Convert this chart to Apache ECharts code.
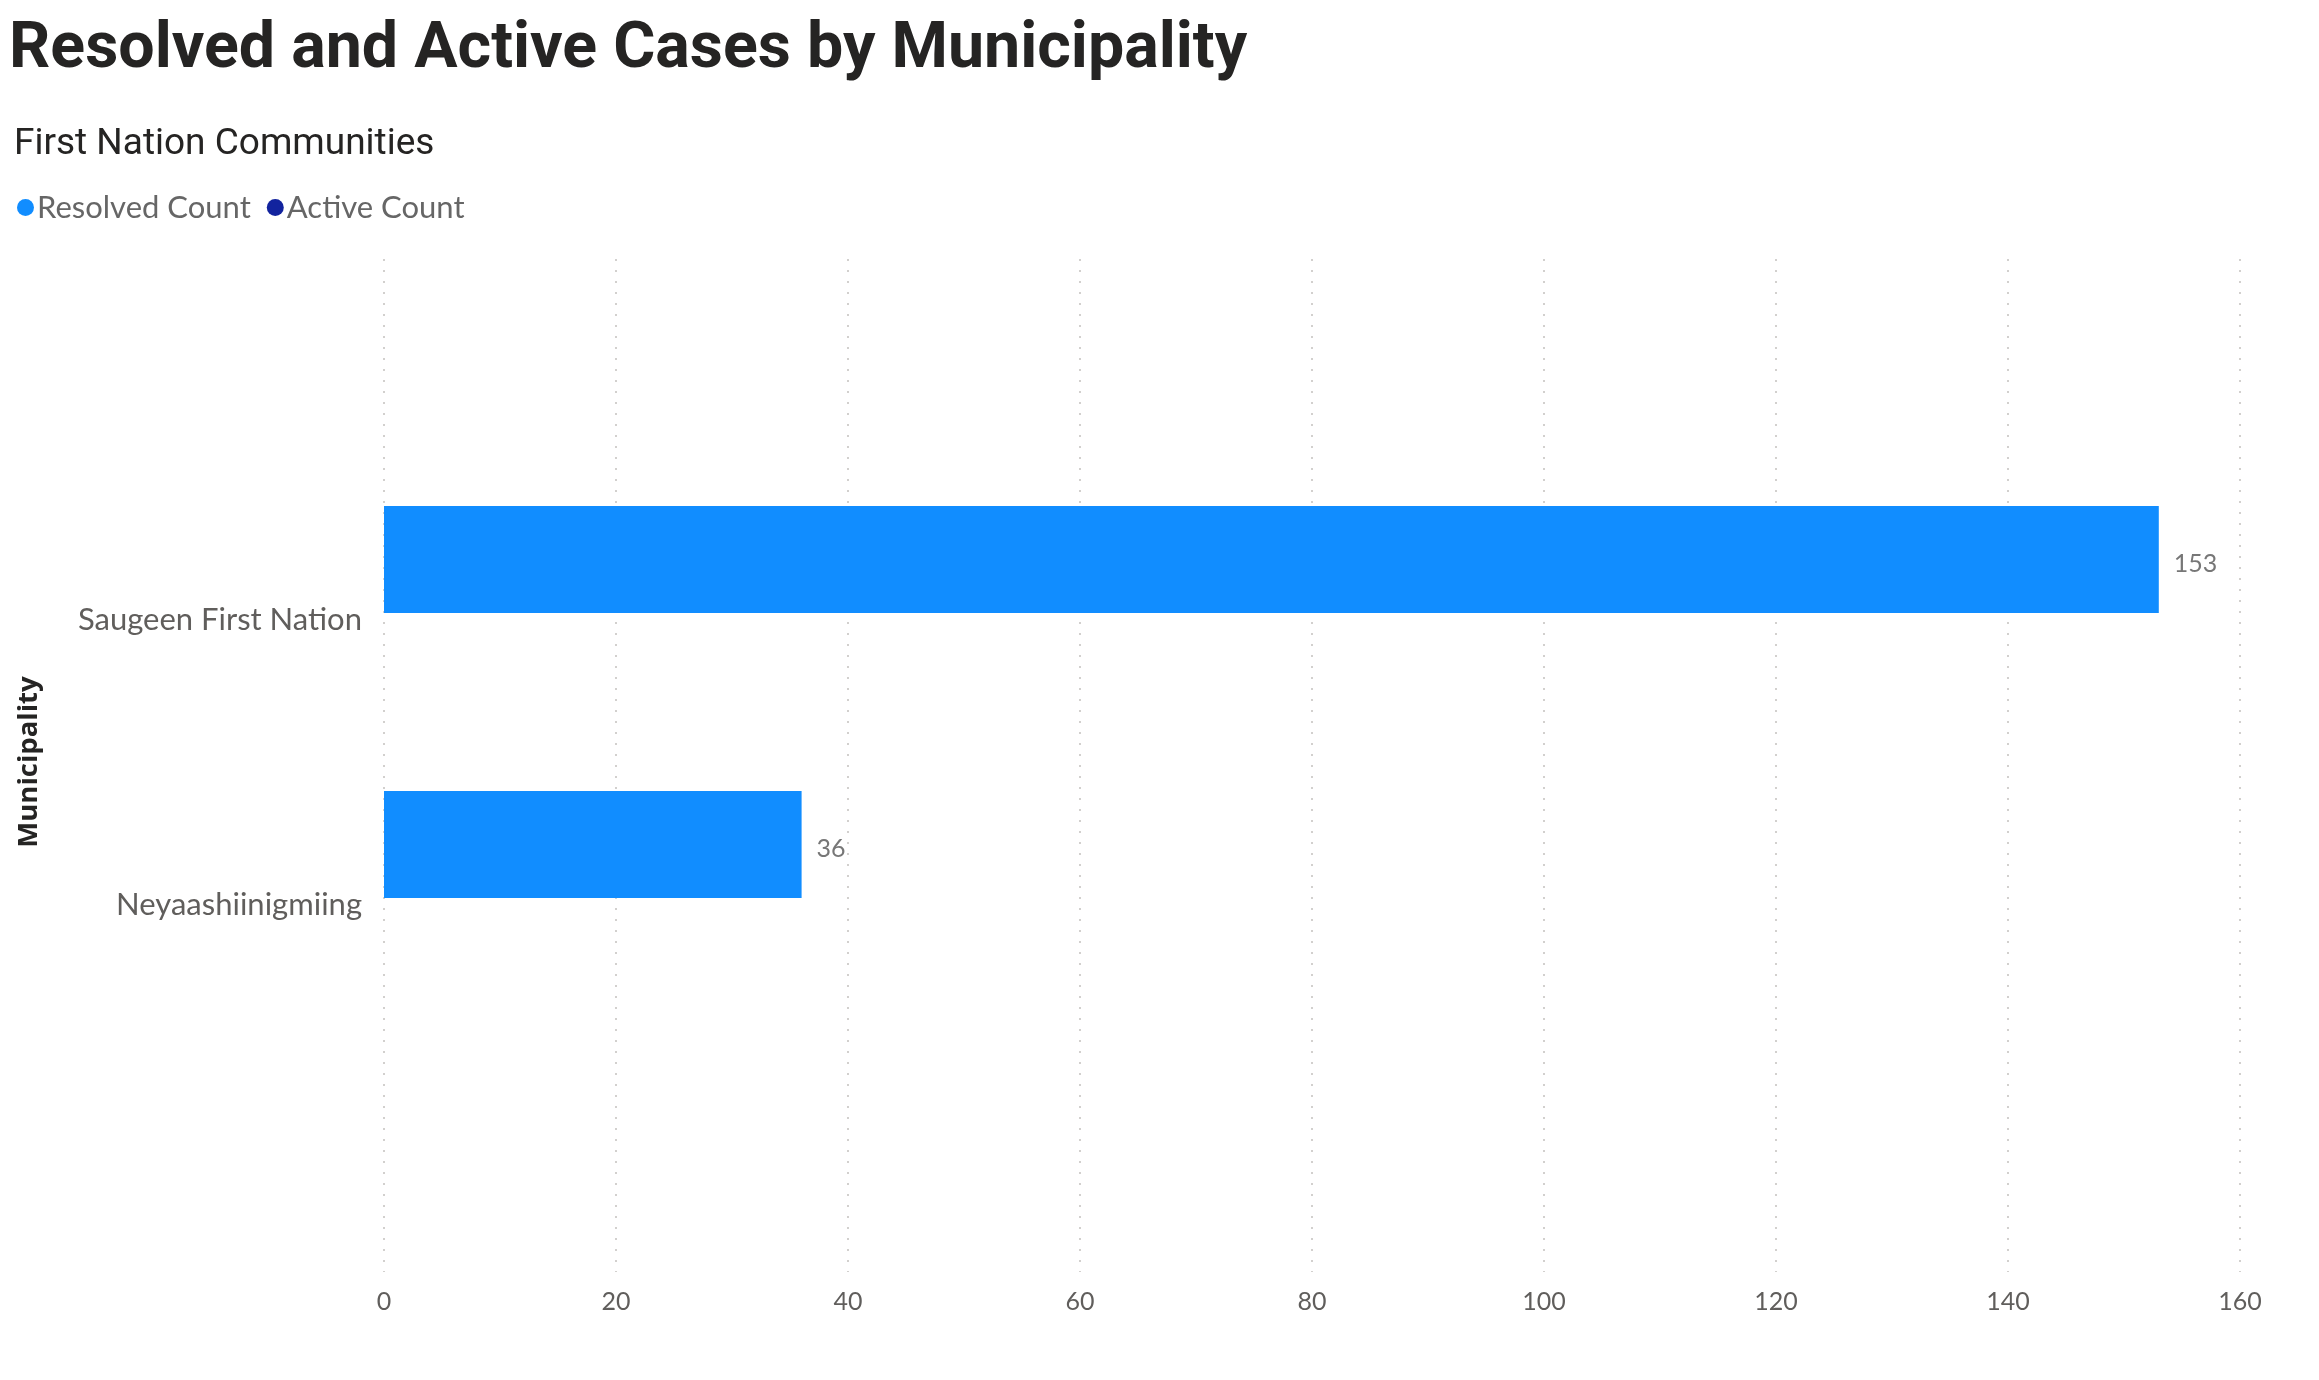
<!DOCTYPE html>
<html>
<head>
<meta charset="utf-8">
<script src="https://cdn.jsdelivr.net/npm/echarts@6/dist/echarts.min.js"></script>
<style>
html,body{margin:0;padding:0;background:#fff;}
#chart{width:2319px;height:1380px;}
</style>
</head>
<body>
<div id="chart"></div>
<script>
var categories = ['Saugeen First Nation', 'Neyaashiinigmiing'];
var resolvedCount = [153, 36];
var activeCount = [0, 0];
var seriesNames = ['Resolved Count', 'Active Count'];
var xTicks = [0, 20, 40, 60, 80, 100, 120, 140, 160];

var chart = echarts.init(document.getElementById('chart'));
var labelFont = 'Lato, "Noto Sans", sans-serif';
chart.setOption({
  animation: false,
  backgroundColor: '#ffffff',
  title: [
    {text: 'Resolved and Active Cases by Municipality', left: 4, top: 13,
     textStyle: {fontFamily: 'Roboto, sans-serif', fontWeight: 'bold', fontSize: 64.5, color: '#252423'}},
    {text: 'First Nation Communities', left: 9, top: 121,
     textStyle: {fontFamily: 'Roboto, sans-serif', fontWeight: 'normal', fontSize: 37, color: '#252423'}}
  ],
  legend: {
    left: 12, top: 187, icon: 'circle', itemWidth: 17, itemHeight: 17, itemGap: 16,
    data: seriesNames,
    textStyle: {fontFamily: labelFont, fontSize: 31, color: '#666666', padding: [0, 0, 0, -2]}
  },
  grid: [
    {left: 384, right: 79, top: 259, bottom: 108},
    {left: 384, right: 79, top: 477, height: 570}
  ],
  xAxis: [
    {gridIndex: 0, type: 'value', min: xTicks[0], max: xTicks[xTicks.length - 1], interval: 20,
     axisLine: {show: false}, axisTick: {show: false},
     axisLabel: {margin: 17, fontFamily: labelFont, fontSize: 25, color: '#605E5C'},
     splitLine: {show: true, lineStyle: {type: [2, 9], color: '#D2D0CE', width: 2}}},
    {gridIndex: 1, type: 'value', min: xTicks[0], max: xTicks[xTicks.length - 1], interval: 20, show: false,
     splitLine: {show: false}}
  ],
  yAxis: [
    {gridIndex: 0, type: 'value', show: false, splitLine: {show: false}},
    {gridIndex: 1, type: 'category', data: categories, inverse: true,
     axisLine: {show: false}, axisTick: {show: false},
     axisLabel: {margin: 22, fontFamily: labelFont, fontSize: 31, color: '#605E5C'},
     name: 'Municipality', nameLocation: 'middle', nameGap: 341, nameRotate: 90,
     nameTextStyle: {fontFamily: '"Open Sans", sans-serif', fontWeight: 'bold', fontSize: 27.5, color: '#252423'}}
  ],
  series: [
    {name: seriesNames[0], type: 'bar', xAxisIndex: 1, yAxisIndex: 1, data: resolvedCount,
     barWidth: 107, barGap: '12%', itemStyle: {color: '#118DFF'},
     label: {show: true, position: 'right', distance: 15, offset: [0, 4], fontFamily: labelFont, fontSize: 25, color: '#777777'}},
    {name: seriesNames[1], type: 'bar', xAxisIndex: 1, yAxisIndex: 1, data: activeCount,
     barWidth: 107, barGap: '12%', itemStyle: {color: '#12239E'}, label: {show: false}}
  ]
});
</script>
</body>
</html>
